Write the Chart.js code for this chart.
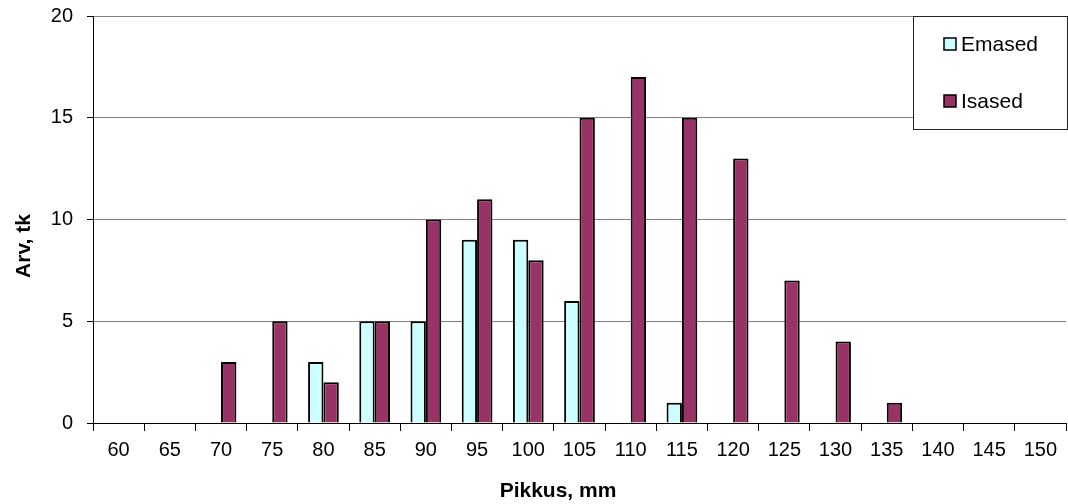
<!DOCTYPE html>
<html>
<head>
<meta charset="utf-8">
<script src="https://cdn.jsdelivr.net/npm/chart.js@4.4.1/dist/chart.umd.min.js"></script>
<style>
  html, body { margin: 0; padding: 0; background: #fff; }
  #wrap { width: 1068px; height: 504px; }
</style>
</head>
<body>
<div id="wrap"><canvas id="myChart" width="1068" height="504"></canvas></div>
<script>
const pikkus = ["60", "65", "70", "75", "80", "85", "90", "95", "100", "105", "110", "115", "120", "125", "130", "135", "140", "145", "150"];
const emased = [0, 0, 0, 0, 3, 5, 5, 9, 9, 6, 0, 1, 0, 0, 0, 0, 0, 0, 0];
const isased = [0, 0, 3, 5, 2, 5, 10, 11, 8, 15, 17, 15, 13, 7, 4, 1, 0, 0, 0];
const y_ticks = [0, 5, 10, 15, 20];
const x_title = "Pikkus, mm";
const y_title = "Arv, tk";

const fontName = "'Liberation Sans', Arial, sans-serif";

// legend box drawn like the excel one, top right
const legendBox = {
  id: "legendBox",
  afterDraw(chart) {
    const c = chart.ctx;
    const x = 913, y = 16, w = 154, h = 113;
    c.save();
    c.fillStyle = "#fff";
    c.fillRect(x, y, w, h);
    c.strokeStyle = "#222";
    c.lineWidth = 1;
    c.strokeRect(x + 0.5, y + 0.5, w, h);
    c.font = "21px " + fontName;
    c.textBaseline = "middle";
    chart.data.datasets.forEach((ds, i) => {
      const cy = 44 + i * 57;
      c.fillStyle = ds.backgroundColor;
      c.fillRect(944, cy - 6, 12, 12);
      c.strokeStyle = "#000";
      c.lineWidth = 1.5;
      c.strokeRect(944, cy - 6, 12, 12);
      c.fillStyle = "#000";
      c.fillText(ds.label, 961, cy + 1);
    });
    c.restore();
  },
};

// axis titles, placed where excel put them
const axisTitles = {
  id: "axisTitles",
  afterDraw(chart) {
    const c = chart.ctx;
    c.save();
    c.fillStyle = "#000";
    c.font = "bold 21px " + fontName;
    c.textAlign = "center";
    c.textBaseline = "alphabetic";
    c.fillText(x_title, 558, 497);
    c.translate(30, 246);
    c.rotate(-Math.PI / 2);
    c.fillText(y_title, 0, 0);
    c.restore();
  },
};

const ctx = document.getElementById("myChart").getContext("2d");
const myChart = new Chart(ctx, {
  type: "bar",
  data: {
    labels: pikkus,
    datasets: [
      {
        label: "Emased",
        data: emased,
        backgroundColor: "#CCFFFF",
        borderColor: "#000",
        borderWidth: 2,
      },
      {
        label: "Isased",
        data: isased,
        backgroundColor: "#993366",
        borderColor: "#000",
        borderWidth: 2,
      },
    ],
  },
  options: {
    responsive: false,
    animation: false,
    layout: { padding: { top: 16, right: 2, left: 0, bottom: 0 } },
    plugins: {
      legend: { display: false },
      tooltip: { enabled: false },
    },
    datasets: {
      bar: { categoryPercentage: 0.6, barPercentage: 1.0 },
    },
    scales: {
      x: {
        grid: {
          offset: true,
          drawOnChartArea: false,
          tickLength: 8,
          color: "#000",
        },
        border: { color: "#000", width: 1 },
        ticks: {
          color: "#000",
          font: { family: fontName, size: 20 },
          padding: 7,
          maxRotation: 0,
          autoSkip: false,
        },
        afterFit: (scale) => {
          scale.height = 81;
          scale.paddingLeft = 0;
          scale.paddingRight = 0;
        },
      },
      y: {
        min: 0,
        max: 20,
        afterBuildTicks: (scale) => {
          scale.ticks = y_ticks.map((v) => ({ value: v }));
        },
        grid: {
          color: "#808080",
          tickLength: 6,
          tickColor: "#000",
        },
        border: { color: "#000", width: 1 },
        ticks: {
          color: "#000",
          font: { family: fontName, size: 20 },
          padding: 14,
        },
        afterFit: (scale) => {
          scale.width = 93;
          scale.paddingTop = 0;
          scale.paddingBottom = 0;
        },
      },
    },
  },
  plugins: [legendBox, axisTitles],
});
</script>
</body>
</html>
